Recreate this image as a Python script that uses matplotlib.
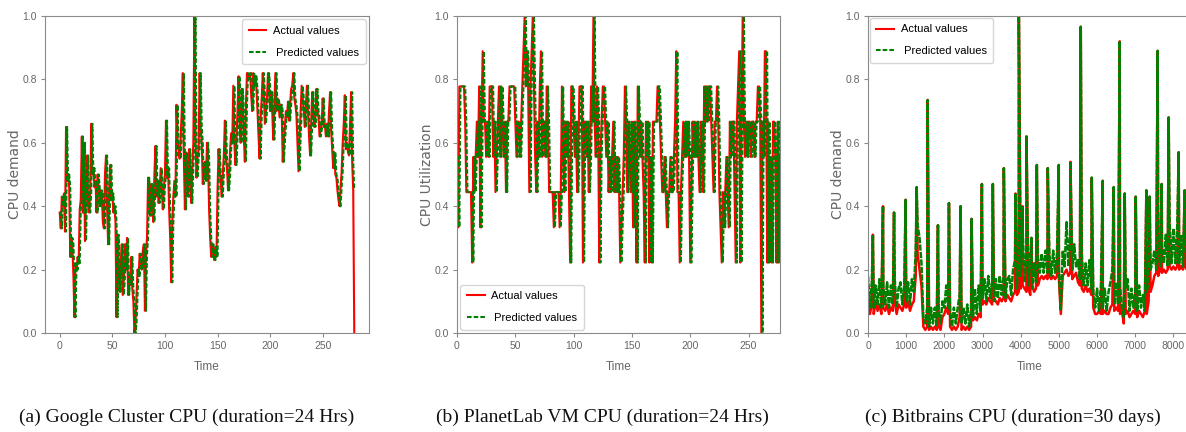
import numpy as np
import matplotlib.pyplot as plt
from matplotlib import font_manager


def pick(*names):
    for n in names:
        try:
            font_manager.findfont(n, fallback_to_default=False)
            return n
        except ValueError:
            pass
    return 'DejaVu Sans'


SANS = pick('Liberation Sans', 'DejaVu Sans')
SERIF = pick('Liberation Serif', 'DejaVu Serif')

# (a) Google cluster, CPU demand per step (t = 0..280)
google_actual = [
    0.38, 0.33, 0.43, 0.40, 0.44, 0.32, 0.65, 0.48, 0.50, 0.46,
    0.24, 0.30, 0.28, 0.18, 0.05, 0.22, 0.20, 0.24, 0.22, 0.39,
    0.42, 0.62, 0.38, 0.60, 0.29, 0.45, 0.56, 0.40, 0.38, 0.45,
    0.66, 0.50, 0.52, 0.46, 0.48, 0.38, 0.50, 0.46, 0.40, 0.45,
    0.44, 0.35, 0.33, 0.50, 0.56, 0.40, 0.28, 0.45, 0.53, 0.42,
    0.44, 0.38, 0.40, 0.35, 0.05, 0.31, 0.20, 0.13, 0.22, 0.28,
    0.12, 0.18, 0.28, 0.20, 0.30, 0.12, 0.18, 0.15, 0.24, 0.14,
    0.10, 0.00, 0.03, 0.12, 0.20, 0.18, 0.25, 0.22, 0.20, 0.26,
    0.28, 0.07, 0.25, 0.30, 0.49, 0.42, 0.37, 0.47, 0.40, 0.35,
    0.50, 0.59, 0.43, 0.48, 0.41, 0.45, 0.52, 0.45, 0.39, 0.46,
    0.50, 0.67, 0.49, 0.52, 0.39, 0.30, 0.16, 0.35, 0.43, 0.48,
    0.43, 0.72, 0.60, 0.58, 0.55, 0.62, 0.70, 0.82, 0.55, 0.39,
    0.57, 0.48, 0.43, 0.58, 0.50, 0.41, 0.52, 0.60, 1.00, 0.62,
    0.49, 0.55, 0.58, 0.82, 0.65, 0.60, 0.47, 0.52, 0.54, 0.48,
    0.60, 0.55, 0.39, 0.30, 0.24, 0.28, 0.26, 0.23, 0.27, 0.24,
    0.45, 0.58, 0.51, 0.48, 0.43, 0.50, 0.56, 0.67, 0.55, 0.52,
    0.45, 0.50, 0.58, 0.63, 0.60, 0.78, 0.60, 0.53, 0.61, 0.70,
    0.81, 0.67, 0.60, 0.77, 0.71, 0.62, 0.54, 0.72, 0.82, 0.80,
    0.81, 0.82, 0.75, 0.70, 0.82, 0.78, 0.81, 0.77, 0.70, 0.62,
    0.55, 0.68, 0.74, 0.82, 0.76, 0.66, 0.70, 0.74, 0.82, 0.78,
    0.70, 0.76, 0.70, 0.61, 0.72, 0.82, 0.70, 0.74, 0.72, 0.68,
    0.72, 0.70, 0.54, 0.60, 0.65, 0.70, 0.68, 0.73, 0.67, 0.72,
    0.77, 0.78, 0.82, 0.74, 0.72, 0.69, 0.60, 0.51, 0.62, 0.70,
    0.78, 0.74, 0.70, 0.65, 0.72, 0.78, 0.70, 0.62, 0.56, 0.66,
    0.76, 0.70, 0.65, 0.68, 0.77, 0.70, 0.68, 0.62, 0.64, 0.66,
    0.74, 0.65, 0.66, 0.62, 0.66, 0.62, 0.70, 0.76, 0.64, 0.58,
    0.52, 0.57, 0.50, 0.49, 0.45, 0.42, 0.40, 0.46, 0.51, 0.60,
    0.66, 0.75, 0.58, 0.60, 0.57, 0.56, 0.66, 0.76, 0.54, 0.45,
    0.00,
]

# (b) PlanetLab VM, utilisation in ninths (t = 0..277)
planetlab_ninths = [
    5, 3, 7, 7, 7, 7, 7, 6, 4, 4,
    4, 4, 4, 2, 5, 4, 5, 6, 5, 7,
    3, 6, 8, 6, 6, 5, 6, 5, 7, 7,
    7, 5, 6, 4, 5, 6, 7, 5, 7, 6,
    5, 6, 4, 6, 6, 7, 7, 7, 7, 7,
    6, 5, 6, 6, 5, 6, 7, 8, 9, 7,
    8, 7, 4, 7, 8, 9, 7, 5, 4, 6,
    5, 7, 8, 5, 6, 6, 5, 7, 6, 4,
    4, 4, 4, 3, 4, 4, 4, 4, 3, 4,
    7, 5, 4, 6, 5, 6, 4, 2, 7, 7,
    6, 5, 6, 4, 5, 7, 7, 7, 2, 6,
    6, 5, 6, 4, 5, 7, 6, 9, 6, 5,
    7, 6, 2, 5, 6, 7, 7, 6, 5, 6,
    4, 5, 4, 5, 6, 4, 5, 4, 5, 4,
    2, 3, 4, 5, 7, 6, 4, 6, 5, 4,
    6, 3, 6, 5, 2, 7, 6, 5, 6, 5,
    4, 2, 6, 5, 6, 2, 5, 2, 6, 6,
    6, 6, 7, 7, 6, 5, 4, 4, 5, 4,
    3, 4, 4, 5, 4, 4, 5, 6, 8, 4,
    4, 2, 4, 5, 6, 5, 6, 5, 6, 5,
    2, 4, 6, 5, 6, 5, 6, 5, 4, 6,
    5, 4, 7, 6, 7, 6, 7, 7, 6, 5,
    4, 6, 6, 7, 6, 4, 3, 2, 4, 3,
    4, 5, 4, 3, 6, 5, 6, 6, 4, 2,
    6, 7, 8, 2, 6, 9, 6, 5, 6, 5,
    6, 6, 5, 6, 6, 5, 6, 6, 7, 7,
    6, 0, 6, 5, 8, 8, 2, 6, 2, 5,
    2, 6, 6, 5, 2, 6, 2, 5,
]

# (c) Bitbrains, sampled every 50 steps (t = 0..8450) plus the isolated spikes
bitbrains_step = 50
bitbrains_actual = [
    0.08, 0.06, 0.09, 0.06, 0.10, 0.07, 0.09, 0.06, 0.08, 0.07,
    0.09, 0.06, 0.08, 0.07, 0.10, 0.06, 0.09, 0.08, 0.07, 0.09,
    0.08, 0.10, 0.07, 0.09, 0.10, 0.18, 0.25, 0.20, 0.15, 0.02,
    0.01, 0.02, 0.01, 0.02, 0.01, 0.02, 0.01, 0.02, 0.01, 0.05,
    0.06, 0.08, 0.06, 0.02, 0.01, 0.02, 0.01, 0.02, 0.05, 0.01,
    0.02, 0.01, 0.02, 0.01, 0.02, 0.04, 0.05, 0.04, 0.06, 0.05,
    0.09, 0.10, 0.09, 0.11, 0.10, 0.09, 0.11, 0.10, 0.09, 0.11,
    0.10, 0.11, 0.10, 0.12, 0.11, 0.10, 0.12, 0.13, 0.12, 0.13,
    0.14, 0.15, 0.14, 0.13, 0.14, 0.12, 0.15, 0.13, 0.14, 0.15,
    0.17, 0.18, 0.17, 0.18, 0.17, 0.18, 0.17, 0.18, 0.17, 0.18,
    0.17, 0.06, 0.18, 0.19, 0.20, 0.18, 0.19, 0.17, 0.18, 0.19,
    0.16, 0.15, 0.14, 0.13, 0.15, 0.13, 0.14, 0.12, 0.08, 0.06,
    0.06, 0.07, 0.06, 0.06, 0.07, 0.06, 0.06, 0.08, 0.09, 0.07,
    0.08, 0.07, 0.06, 0.07, 0.03, 0.06, 0.07, 0.05, 0.06, 0.07,
    0.06, 0.05, 0.07, 0.06, 0.05, 0.07, 0.06, 0.10, 0.13, 0.15,
    0.18, 0.19, 0.18, 0.20, 0.19, 0.20, 0.19, 0.20, 0.21, 0.20,
    0.21, 0.20, 0.21, 0.20, 0.21, 0.20, 0.21, 0.20, 0.21, 0.20,
]
bitbrains_pred = [
    0.18, 0.08, 0.16, 0.08, 0.15, 0.09, 0.17, 0.08, 0.15, 0.09,
    0.16, 0.08, 0.15, 0.09, 0.17, 0.08, 0.14, 0.16, 0.09, 0.15,
    0.10, 0.16, 0.09, 0.17, 0.13, 0.26, 0.34, 0.30, 0.22, 0.05,
    0.03, 0.08, 0.02, 0.08, 0.03, 0.08, 0.02, 0.07, 0.03, 0.10,
    0.08, 0.15, 0.08, 0.07, 0.02, 0.08, 0.03, 0.08, 0.12, 0.03,
    0.08, 0.03, 0.09, 0.02, 0.07, 0.05, 0.14, 0.06, 0.15, 0.07,
    0.11, 0.17, 0.10, 0.18, 0.11, 0.16, 0.10, 0.17, 0.11, 0.18,
    0.12, 0.18, 0.11, 0.17, 0.18, 0.12, 0.20, 0.23, 0.14, 0.26,
    0.18, 0.33, 0.16, 0.26, 0.15, 0.24, 0.14, 0.22, 0.16, 0.24,
    0.19, 0.25, 0.19, 0.26, 0.19, 0.25, 0.18, 0.26, 0.19, 0.25,
    0.20, 0.07, 0.26, 0.21, 0.35, 0.21, 0.32, 0.20, 0.28, 0.21,
    0.23, 0.17, 0.25, 0.15, 0.22, 0.15, 0.23, 0.14, 0.13, 0.08,
    0.14, 0.07, 0.15, 0.08, 0.14, 0.07, 0.13, 0.16, 0.20, 0.09,
    0.16, 0.09, 0.15, 0.08, 0.05, 0.14, 0.17, 0.07, 0.14, 0.08,
    0.13, 0.07, 0.15, 0.08, 0.12, 0.07, 0.13, 0.16, 0.20, 0.22,
    0.26, 0.20, 0.28, 0.21, 0.27, 0.22, 0.31, 0.21, 0.35, 0.22,
    0.33, 0.22, 0.34, 0.22, 0.31, 0.21, 0.32, 0.22, 0.31, 0.22,
]
spike_time = [128, 393, 682, 985, 1274, 1562, 1832, 2120, 2425, 2713,
              2983, 3270, 3558, 3863, 3951, 4048, 4151, 4282, 4422, 4709,
              4997, 5303, 5573, 5861, 6149, 6436, 6593, 6724, 7012, 7291,
              7378, 7587, 7692, 7875, 8137, 8295]
spike_value = [0.31, 0.40, 0.38, 0.42, 0.46, 0.735, 0.34, 0.41, 0.40, 0.36,
               0.47, 0.47, 0.52, 0.44, 1.00, 0.40, 0.62, 0.30, 0.53, 0.52,
               0.53, 0.54, 0.966, 0.49, 0.48, 0.46, 0.92, 0.44, 0.43, 0.45,
               0.43, 0.89, 0.47, 0.68, 0.57, 0.45]

W, H = 1186, 432
TXT = '#666666'
SPINE = '#8a8a8a'

fig = plt.figure(figsize=(W / 100, H / 100), dpi=100)


def make_axes(left_px, width_px, xticks):
    ax = fig.add_axes([left_px / W, 1 - 333 / H, width_px / W, 317 / H])
    for s in ax.spines.values():
        s.set_color(SPINE)
        s.set_linewidth(0.8)
    ax.tick_params(colors=SPINE, labelcolor=TXT, length=3, width=0.8, pad=3)
    ax.set_ylim(0, 1)
    yt = np.arange(0, 1.01, 0.2)
    ax.set_yticks(yt)
    ax.set_yticklabels(['%.1f' % v for v in yt], fontsize=7.5, family=SANS)
    ax.set_xticks(xticks)
    ax.set_xticklabels([str(v) for v in xticks], fontsize=7.5, family=SANS)
    return ax


def draw(ax, x, actual, pred, ylabel, loc, lw=1.5, dashes=(2.2, 1.0)):
    ax.plot(x, actual, color='r', lw=lw, label='Actual values')
    ax.plot(x, pred, color='g', lw=lw, ls='--', dashes=dashes,
            label=' Predicted values')
    ax.set_xlabel('Time', fontsize=8.5, color=TXT, labelpad=7, family=SANS)
    ax.set_ylabel(ylabel, fontsize=10, color=TXT, labelpad=0)
    leg = ax.legend(loc=loc, prop={'family': SANS, 'size': 8}, handlelength=1.6,
                    handletextpad=0.6, labelspacing=1.05, borderaxespad=0.3,
                    borderpad=0.6)
    leg.get_lines()[0].set_linewidth(1.5)
    leg.get_lines()[1].set_linewidth(1.5)
    leg.get_lines()[1].set_dashes((2.2, 1.0))
    return leg


# (a)
ga = np.array(google_actual)
ta = np.arange(len(ga))
ga_pred = np.r_[ga[0], ga[:-1]]  # prediction trails actual by one step
ax1 = make_axes(45, 324, range(0, 251, 50))
draw(ax1, ta, ga, ga_pred, 'CPU demand', 'upper right')
ax1.set_xlim(-14, 294)

# (b)
pb = np.array(planetlab_ninths) / 9.0
tb = np.arange(len(pb))
pb_pred = np.r_[pb[0], pb[:-1]]
ax2 = make_axes(457, 323, range(0, 251, 50))
draw(ax2, tb, pb, pb_pred, 'CPU Utilization', 'lower left')
ax2.set_xlim(0, len(pb) - 1)

# (c)
grid = np.arange(len(bitbrains_actual)) * bitbrains_step
tc = np.concatenate([grid, spike_time])
order = np.argsort(tc, kind='stable')
ca = np.concatenate([bitbrains_actual, spike_value])[order]
cp = np.concatenate([bitbrains_pred, spike_value])[order]
ax3 = make_axes(868, 323, range(0, 8001, 1000))
leg3 = draw(ax3, tc[order], ca, cp, 'CPU demand', 'upper left', lw=1.8, dashes=(2.5, 0.5))
ax3.set_xlim(0, 8460)
leg3.set_bbox_to_anchor((-0.005, 1.005), transform=ax3.transAxes)

captions = ['(a) Google Cluster CPU (duration=24 Hrs)',
            '(b) PlanetLab VM CPU (duration=24 Hrs)',
            '(c) Bitbrains CPU (duration=30 days)']
for cx, cap in zip([187, 602, 1013], captions):
    fig.text(cx / W, 1 - 417 / H, cap, ha='center', va='center',
             family=SERIF, fontsize=14, color='#111111')

fig.savefig('out.png', dpi=100)
